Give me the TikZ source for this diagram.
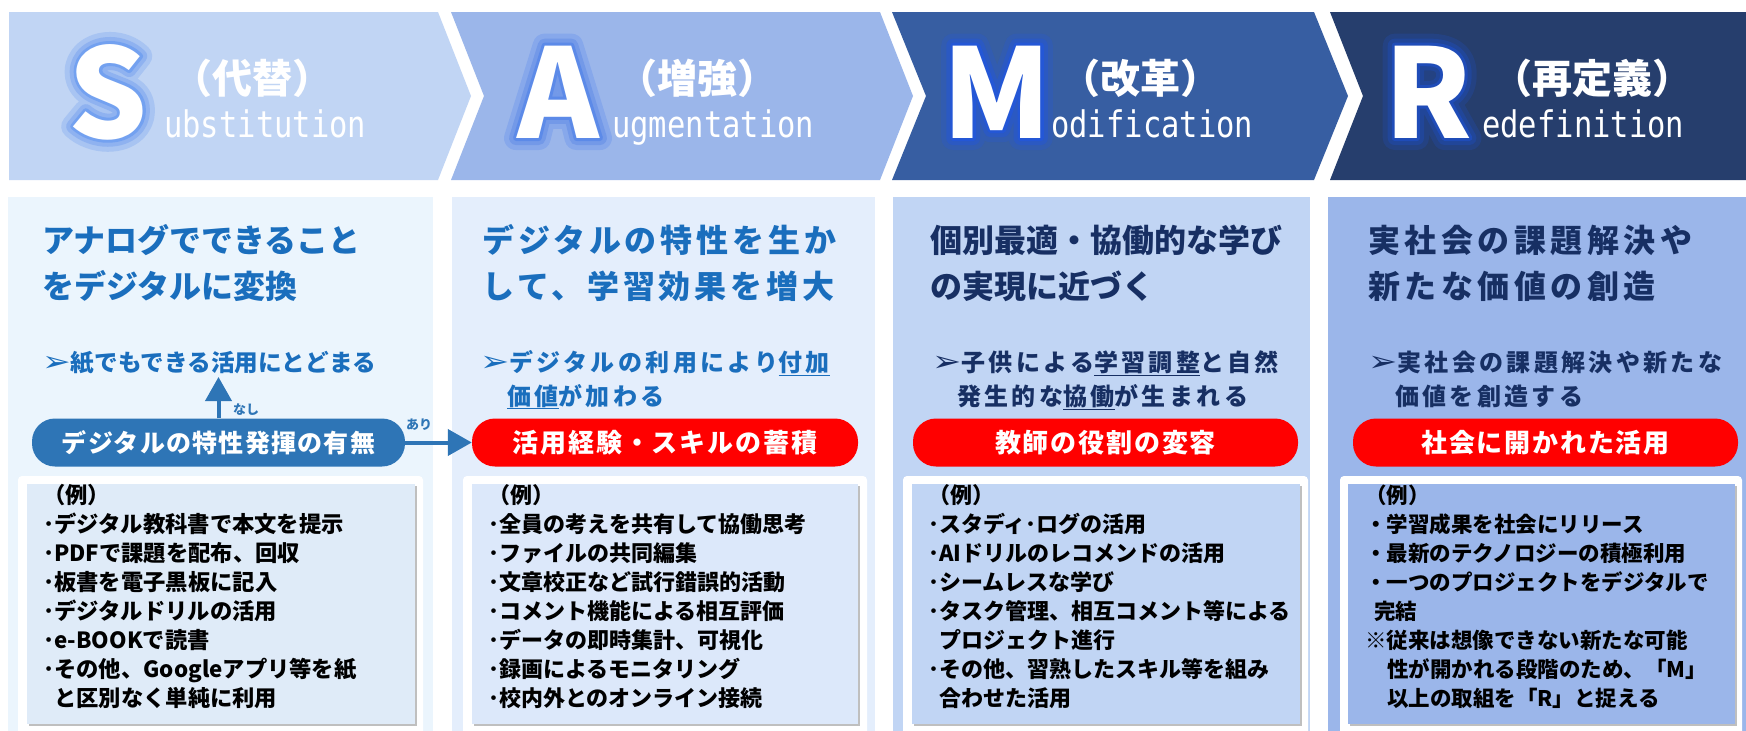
\documentclass[tikz,border=0pt]{standalone}
\usepackage{fontspec}
\setmainfont{Noto Sans CJK JP}
\newfontfamily\symfont{DejaVu Sans}
\newfontfamily\latmono{DejaVu Sans Mono}
\usetikzlibrary{arrows.meta}
\newcommand{\fs}[1]{\fontsize{#1}{#1}\selectfont}
\newcommand{\ls}[1]{\addfontfeature{LetterSpace=#1}}
% stroked (outline) text for the glow: width, RGB stroke colour, text
\newcommand{\strk}[3]{\special{pdf:literal direct 1 Tr #1 w 1 j 1 J #2 RG}#3\special{pdf:literal direct 0 Tr 1 w}}
\newcommand{\arrowhd}{{\symfont\bfseries\scalebox{1.45}[1.2]{➢}}}
\definecolor{cS}{HTML}{C1D5F4}
\definecolor{cA}{HTML}{9BB6EA}
\definecolor{cM}{HTML}{375EA2}
\definecolor{cR}{HTML}{263E6D}
\definecolor{p1}{HTML}{EBF5FD}
\definecolor{p2}{HTML}{E4EEFC}
\definecolor{p3}{HTML}{C1D5F4}
\definecolor{p4}{HTML}{9BB6EA}
\definecolor{b1}{HTML}{DFEBF8}
\definecolor{b2}{HTML}{DCE8FA}
\definecolor{blueT}{HTML}{1A6EBD}
\definecolor{navyT}{HTML}{172F63}
\definecolor{pillB}{HTML}{2E75B6}
\definecolor{pillR}{HTML}{FF0000}
\tikzset{
  bigL/.style={anchor=base, inner sep=0pt, text=white, font=\fs{124}\bfseries},
  hjp/.style={anchor=base, inner sep=0pt, text=white, font=\fs{40}\bfseries},
  hlat/.style={anchor=base west, inner sep=0pt, text=white, font=\latmono\fs{30.5}},
  head/.style={anchor=base west, inner sep=0pt, font=\fs{32}\bfseries},
  sub/.style={anchor=base west, inner sep=0pt, font=\fs{24}\bfseries},
  pill/.style={rounded corners=23pt, minimum height=48pt, inner sep=0pt, text=white, font=\fs{26}\bfseries\ls{7}},
  extxt/.style={anchor=base west, inner sep=0pt, text=black, font=\fs{22.3}\bfseries},
  arr/.style={pillB, line width=4pt, -{Triangle[width=26pt,length=24pt]}},
  boxshadow/.style={fill=black!25},
}
\begin{document}
\begin{tikzpicture}[x=1pt,y=-1pt]
\useasboundingbox (0,0) rectangle (1746,731);
\fill[white] (0,0) rectangle (1746,731);
% header chevrons
\fill[cS] (9,12) -- (438,12) -- (471,96) -- (438,180) -- (9,180) -- cycle;
\fill[cA] (451,12) -- (880,12) -- (913,96) -- (880,180) -- (451,180) -- (484,96) -- cycle;
\fill[cM] (892,12) -- (1314,12) -- (1348,96) -- (1314,180) -- (892,180) -- (926,96) -- cycle;
\fill[cR] (1330,12) -- (1746,12) -- (1746,180) -- (1330,180) -- (1363,96) -- cycle;
% big letters with soft glow (stroked layers under the white letter)
\node[bigL] (Sg1) at (108,138) {\strk{24}{0.66 0.77 0.95}{S}};
\node[bigL] (Sg2) at (108,138) {\strk{14}{0.56 0.70 0.94}{S}};
\node[bigL] (Sg3) at (108,138) {\strk{6}{0.45 0.63 0.94}{S}};
\node[bigL] (S) at (108,138) {S};
\node[bigL] (Ag1) at (558,138) {\strk{24}{0.53 0.66 0.92}{A}};
\node[bigL] (Ag2) at (558,138) {\strk{14}{0.45 0.60 0.91}{A}};
\node[bigL] (Ag3) at (558,138) {\strk{6}{0.36 0.54 0.91}{A}};
\node[bigL] (A) at (558,138) {A};
\node[bigL] (Mg1) at (997,138) {\strk{24}{0.196 0.36 0.69}{M}};
\node[bigL] (Mg2) at (997,138) {\strk{14}{0.17 0.35 0.76}{M}};
\node[bigL] (Mg3) at (997,138) {\strk{6}{0.14 0.34 0.84}{M}};
\node[bigL] (M) at (997,138) {M};
\node[bigL] (Rg1) at (1428,138) {\strk{24}{0.14 0.26 0.51}{R}};
\node[bigL] (Rg2) at (1428,138) {\strk{14}{0.13 0.275 0.60}{R}};
\node[bigL] (Rg3) at (1428,138) {\strk{6}{0.12 0.30 0.72}{R}};
\node[bigL] (R) at (1428,138) {R};
\node[hjp] (Sj) at (252,93) {（代替）};
\node[hjp] (Aj) at (697,93) {（増強）};
\node[hjp] (Mj) at (1140,93) {（改革）};
\node[hjp] (Rj) at (1592,93) {（再定義）};
\node[hlat] (Sl) at (164,137) {\scalebox{1}[1.2]{ubstitution}};
\node[hlat] (Al) at (612,137) {\scalebox{1}[1.2]{ugmentation}};
\node[hlat] (Ml) at (1051,137) {\scalebox{1}[1.2]{odification}};
\node[hlat] (Rl) at (1482,137) {\scalebox{1}[1.2]{edefinition}};
% panels
\fill[p1] (8,197) rectangle (433,731);
\fill[p2] (452,197) rectangle (875,731);
\fill[p3] (893,197) rectangle (1310,731);
\fill[p4] (1328,197) rectangle (1746,731);
% headings
\node[head, text=blueT] (h1a) at (42,252) {アナログでできること};
\node[head, text=blueT] (h1b) at (42,298) {をデジタルに変換};
\node[head, text=blueT, font=\fs{32}\bfseries\ls{12}] (h2a) at (482,252) {デジタルの特性を生か};
\node[head, text=blueT, font=\fs{32}\bfseries\ls{12}] (h2b) at (482,298) {して、学習効果を増大};
\node[head, text=navyT] (h3a) at (930,252) {個別最適・協働的な学び};
\node[head, text=navyT] (h3b) at (930,298) {の実現に近づく};
\node[head, text=navyT, font=\fs{32}\bfseries\ls{14}] (h4a) at (1368,252) {実社会の課題解決や};
\node[head, text=navyT, font=\fs{32}\bfseries\ls{14}] (h4b) at (1368,298) {新たな価値の創造};
% sub headings
\node[sub, text=blueT, font=\fs{23.6}\bfseries] (s1) at (42,371) {\arrowhd 紙でもできる活用にとどまる};
\node[sub, text=blueT, font=\fs{24}\bfseries\ls{14}] (s2a) at (480,371) {\arrowhd デジタルの利用により\underline{付加}};
\node[sub, text=blueT, font=\fs{24}\bfseries\ls{14}] (s2b) at (507,405) {\underline{価値}が加わる};
\node[sub, text=navyT, font=\fs{24}\bfseries\ls{14}] (s3a) at (932,371) {\arrowhd 子供による\underline{学習調整}と自然};
\node[sub, text=navyT, font=\fs{24}\bfseries\ls{14}] (s3b) at (957,405) {発生的な\underline{協働}が生まれる};
\node[sub, text=navyT, font=\fs{24}\bfseries\ls{14}] (s4a) at (1368,371) {\arrowhd 実社会の課題解決や新たな};
\node[sub, text=navyT, font=\fs{24}\bfseries\ls{14}] (s4b) at (1395,405) {価値を創造する};
% pills
\node[pill, fill=pillB, minimum width=373pt, font=\fs{25}\bfseries\ls{5}] (pl1) at (218.5,442.5) {デジタルの特性発揮の有無};
\node[pill, fill=pillR, minimum width=386pt] (pl2) at (665,442.5) {活用経験・スキルの蓄積};
\node[pill, fill=pillR, minimum width=385pt] (pl3) at (1105.5,442.5) {教師の役割の変容};
\node[pill, fill=pillR, minimum width=385pt] (pl4) at (1545.5,442.5) {社会に開かれた活用};
% arrows
\coordinate (upTip) at (218.5,377);
\draw[arr] (pl1.north) -- (upTip);
\draw[arr] (pl1.east) -- (pl2.west);
\node[inner sep=0pt, text=pillB, font=\fs{13}\bfseries] (nashi) at (246,410) {なし};
\node[inner sep=0pt, text=pillB, font=\fs{13}\bfseries] (ari) at (419,425) {あり};
% example boxes
\fill[white, rounded corners=4pt] (18,476) rectangle (423,740);
\fill[boxshadow] (28.5,485.5) rectangle (416.5,725.5);
\fill[b1] (27,484) rectangle (415,724);
\fill[white, rounded corners=4pt] (463,476) rectangle (867,740);
\fill[boxshadow] (473.5,485.5) rectangle (859.5,725.5);
\fill[b2] (472,484) rectangle (858,724);
\fill[white, rounded corners=4pt] (903,476) rectangle (1308,740);
\fill[boxshadow] (913.5,485.5) rectangle (1301.5,725.5);
\fill[p3] (912,484) rectangle (1300,724);
\fill[white, rounded corners=4pt] (1340,476) rectangle (1742,740);
\fill[boxshadow] (1349.5,485.5) rectangle (1736.5,725.5);
\fill[p4] (1348,484) rectangle (1735,724);
% example texts
\foreach \t [count=\i from 0] in {（例）,･デジタル教科書で本文を提示,･PDFで課題を配布、回収,･板書を電子黒板に記入,･デジタルドリルの活用,･e-BOOKで読書,･その他、Googleアプリ等を紙,\hspace{11pt}と区別なく単純に利用}
  \node[extxt] (e1-\i) at (43,503+29*\i) {\t};
\foreach \t [count=\i from 0] in {（例）,･全員の考えを共有して協働思考,･ファイルの共同編集,･文章校正など試行錯誤的活動,･コメント機能による相互評価,･データの即時集計、可視化,･録画によるモニタリング,･校内外とのオンライン接続}
  \node[extxt, font=\fs{22}\bfseries] (e2-\i) at (488,503+29*\i) {\t};
\foreach \t [count=\i from 0] in {（例）,･スタディ･ログの活用,･AIドリルのレコメンドの活用,･シームレスな学び,･タスク管理、相互コメント等による,\hspace{11pt}プロジェクト進行,･その他、習熟したスキル等を組み,\hspace{11pt}合わせた活用}
  \node[extxt, font=\fs{22}\bfseries] (e3-\i) at (928,503+29*\i) {\t};
\foreach \t [count=\i from 0] in {（例）,・学習成果を社会にリリース,・最新のテクノロジーの積極利用,・一つのプロジェクトをデジタルで,\hspace{9pt}完結,※従来は想像できない新たな可能,\hspace{22pt}性が開かれる段階のため、「M」,\hspace{22pt}以上の取組を「R」と捉える}
  \node[extxt, font=\fs{21.5}\bfseries] (e4-\i) at (1365,503+29*\i) {\t};
\end{tikzpicture}
\end{document}
